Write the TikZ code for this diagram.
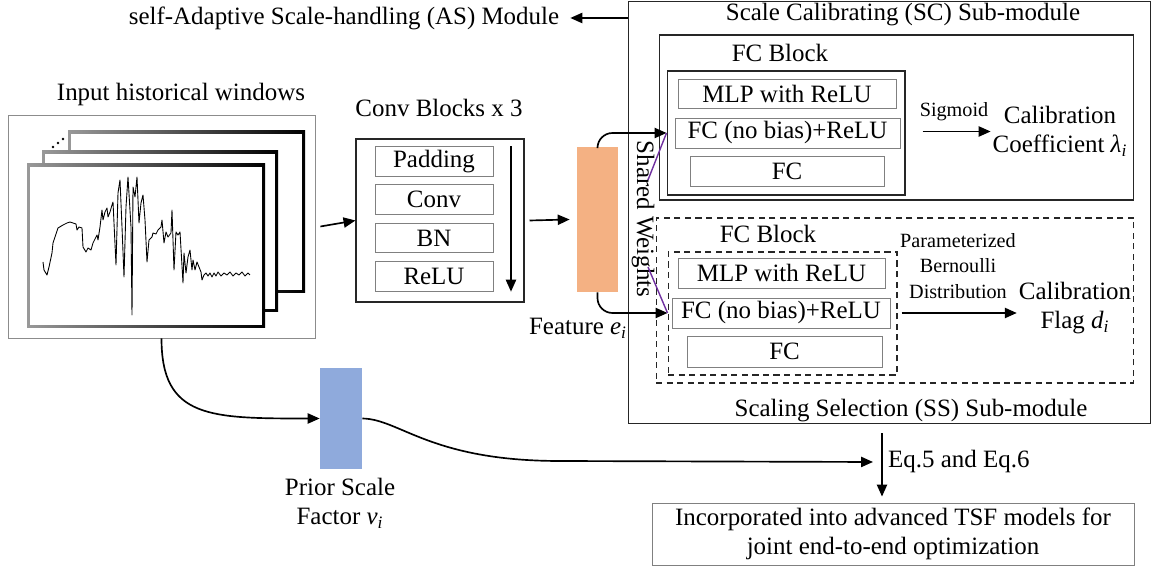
\documentclass[tikz,border=0pt]{standalone}
\usepackage{fontspec}
\setmainfont{Liberation Serif}
\usetikzlibrary{arrows.meta}

\definecolor{featcol}{HTML}{F4B183}
\definecolor{priorcol}{HTML}{8FAADC}
\definecolor{swcol}{HTML}{7030A0}

\begin{document}
\begin{tikzpicture}[x=0.02cm,y=-0.02cm,
  every node/.style={font=\fontsize{14.2}{16.5}\selectfont},
  smalltxt/.style={font=\fontsize{11.5}{14.4}\selectfont},
  blk/.style={draw=black!50,line width=0.5pt,inner sep=0pt},
  boxline/.style={draw=black!85,line width=0.6pt,inner sep=0pt},
  dashline/.style={boxline,dash pattern=on 3.5pt off 2.5pt},
  arr/.style={line width=0.95pt,-{Triangle[length=6.8pt,width=5.8pt]}}]
  \useasboundingbox (0,0) rectangle (1153,573);

  \node (wintitle) at (181,95) {Input historical windows};
  \node[draw=black!45,line width=0.5pt,minimum width=6.14cm,minimum height=4.46cm] (win) at (161.5,226.5) {};
  \foreach \xa/\ya/\xb/\yb in {68/131/305/293,42/151/278/312,27/164/265/328}{
    \shade[left color=black!40,right color=black] (\xa,\ya) rectangle (\xb,\yb);
    \fill[white] (\xa+2.6,\ya+2.6) rectangle (\xb-2.6,\yb-2.6);
  }
  \foreach \p in {(53,147),(58,143),(63,139)} \fill \p circle (0.8pt);
  \draw[line width=0.5pt,line join=round] plot coordinates {
    (43,262) (44,270) (47,275) (49,267) (52,253) (53,243) (55,237) (58,228)
    (63,225) (67,223) (70,222) (73,223) (76,224) (77,230) (79,227) (82,228)
    (83,247) (86,252) (88,248) (91,250) (93,243) (97,235) (98,240) (100,227)
    (102,210) (103,220) (105,212) (107,208) (108,217) (110,212) (112,205) (113,202)
    (116,265) (118,193) (120,180) (122,227) (124,277) (126,207) (128,177) (131,227)
    (132,315) (133,187) (135,197) (137,177) (139,223) (141,203) (143,195) (145,220)
    (147,262) (149,240) (152,237) (153,233) (156,234) (158,230) (161,227) (162,220)
    (164,243) (166,232) (168,237) (171,233) (172,210) (174,270) (176,232) (178,235)
    (180,232) (183,283) (184,253) (186,273) (188,257) (190,250) (192,270) (193,260)
    (195,270) (197,262) (199,267) (201,272) (202,280) (204,275) (206,273) (208,276)
    (210,273) (212,277) (214,273) (216,276) (218,272) (221,276) (224,273) (227,275)
    (230,272) (233,276) (236,273) (239,275) (242,272) (245,276) (248,273) (250,275)};

  \node (convtitle) at (439,108) {Conv Blocks x 3};
  \node[boxline,minimum width=3.36cm,minimum height=3.26cm] (conv) at (440,220.5) {};
  \foreach \t/\y [count=\i] in {Padding/161.5,Conv/199.5,BN/238,ReLU/276.5}
    \node[blk,minimum width=2.36cm,minimum height=0.59cm] (cb\i) at (434,\y) {\t};
  \draw[arr] ([xshift=1.54cm]cb1.north) -- ([xshift=1.54cm]cb4.south);
  \draw[arr] ([xshift=0.1cm]win.east) -- (conv.west);

  \node[fill=featcol,inner sep=0pt,minimum width=0.82cm,minimum height=2.9cm] (feat) at (597.5,219.5) {};
  \node (featlbl) at (578,328) {Feature \textit{e}\textsubscript{\textit{i}}};
  \draw[arr] ([xshift=0.1cm]conv.east) -- ([xshift=-0.14cm]feat.west);

  \node[boxline,minimum width=10.46cm,minimum height=8.46cm] (as) at (889.5,212.5) {};
  \node (astitle) at (344,18) {self-Adaptive Scale-handling (AS) Module};
  \draw[arr] (as.west |- astitle) -- ([xshift=0.1cm]astitle.east);

  \node (sctitle) at (903,15) {Scale Calibrating (SC) Sub-module};
  \node[boxline,minimum width=9.5cm,minimum height=3.3cm] (sc) at (896.5,117.5) {};
  \node (fcAtitle) at (780,53) {FC Block};
  \node[boxline,minimum width=4.76cm,minimum height=2.48cm] (fcA) at (786,133) {};
  \node[blk,minimum width=4.36cm,minimum height=0.58cm] (mlpA) at (787,93.5) {MLP with ReLU};
  \node[blk,minimum width=4.5cm,minimum height=0.6cm] (nbA) at (787.5,133) {FC (no bias)+ReLU};
  \node[blk,minimum width=3.88cm,minimum height=0.6cm] (fcoA) at (787,171) {FC};
  \node[align=center,inner sep=1pt] (calA) at (1060,131.5) {Calibration\\Coefficient \textit{λ}\textsubscript{\textit{i}}};
  \node[smalltxt] (sig) at (954,112) {Sigmoid};
  \draw[arr] ([xshift=0.34cm]fcA.east |- calA.west) -- (calA.west);

  \node (sstitle) at (911,411) {Scaling Selection (SS) Sub-module};
  \node[dashline,minimum width=9.56cm,minimum height=3.3cm] (ss) at (895,300.5) {};
  \node (fcBtitle) at (768,234) {FC Block};
  \node[dashline,minimum width=4.58cm,minimum height=2.46cm] (fcB) at (782.5,313.5) {};
  \node[blk,minimum width=4.14cm,minimum height=0.6cm] (mlpB) at (781.5,273) {MLP with ReLU};
  \node[blk,minimum width=4.36cm,minimum height=0.6cm] (nbB) at (781,313) {FC (no bias)+ReLU};
  \node[blk,minimum width=3.9cm,minimum height=0.62cm] (fcoB) at (784.5,351.5) {FC};
  \node[smalltxt,align=center] (bern) at (958,266) {Parameterized\\Bernoulli\\Distribution};
  \node[align=center,inner sep=1pt] (calB) at (1075,308) {Calibration\\Flag \textit{d}\textsubscript{\textit{i}}};
  \draw[arr] ([xshift=0.08cm]fcB.east |- nbB.east) -- (calB.west |- nbB.east);

  \draw[arr,rounded corners=0.3cm] (feat.north) |- (fcA.west |- nbA.west);
  \draw[arr,rounded corners=0.3cm] (feat.south) |- (fcB.west |- nbB.west);
  \node[rotate=-90] (shared) at (643,219) {Shared Weights};
  \coordinate (swA) at (648,180);
  \coordinate (swB) at (648,267);
  \draw[swcol,line width=0.8pt] (fcA.west |- nbA.west) -- (swA);
  \draw[swcol,line width=0.8pt] (swB) -- (fcB.west |- nbB.west);

  \node[fill=priorcol,inner sep=0pt,minimum width=0.84cm,minimum height=2.02cm] (prior) at (341,418.5) {};
  \node[align=center] (priorlbl) at (340,503) {Prior Scale\\Factor \textit{v}\textsubscript{\textit{i}}};
  \draw[arr] (win.south) .. controls +(0,80) and +(-110,0) .. (prior.west);

  \node[blk,align=center,minimum width=9.64cm,minimum height=1.24cm] (out) at (893,534) {Incorporated into advanced TSF models for\\joint end-to-end optimization};
  \coordinate (mix) at (882,462);
  \draw[arr] (prior.east) .. controls (400,419) and (430,461) .. (560,461) -- ([xshift=-0.18cm]mix);
  \draw[arr] ([yshift=-0.18cm]as.south -| mix) -- ([yshift=0.12cm]out.north -| mix);
  \node[anchor=west] (eqlbl) at (mix) {Eq.5 and Eq.6};
\end{tikzpicture}
\end{document}
